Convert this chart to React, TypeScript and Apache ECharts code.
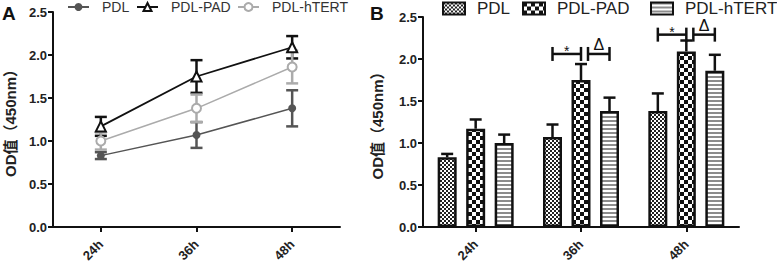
import React, { useEffect, useRef } from 'react';
import * as echarts from 'echarts';

// ---------- data ----------
const categories = ['24h', '36h', '48h'];
const seriesNames = ['PDL', 'PDL-PAD', 'PDL-hTERT'];
const meanPDL = [0.83, 1.07, 1.38];
const errPDL = [0.04, 0.15, 0.21];
const meanPAD = [1.17, 1.75, 2.09];
const errPAD = [0.11, 0.19, 0.13];
const meanHTERT = [1.0, 1.38, 1.86];
const errHTERT = [0.1, 0.16, 0.19];
const yMin = 0;
const yMax = 2.5;
const yStep = 0.5;
const yAxisName = 'OD值（450nm）';
// significance brackets: [category index, y value, from series, to series]
const sigBrackets = [
  [1, 2.06, 0, 1],
  [1, 2.06, 1, 2],
  [2, 2.29, 0, 1],
  [2, 2.29, 1, 2],
];
const sigLabels = ['*', 'Δ', '*', 'Δ'];

const means = [meanPDL, meanPAD, meanHTERT];
const errs = [errPDL, errPAD, errHTERT];

// ---------- style ----------
const FONT = '"Liberation Sans", Arial, "Noto Sans CJK SC", sans-serif';
const lineColors = ['#555555', '#111111', '#ababab'];
const BAR_W = 19;
const BAR_GAP = 0.5;
const BAR_SP = BAR_W * (1 + BAR_GAP);
const BRACKET_INSET: Record<string, [number, number]> = { '*': [0, 0], 'Δ': [7, 0] };

function makePattern(kind: string) {
  const size = 8;
  const c = document.createElement('canvas');
  c.width = size;
  c.height = size;
  const ctx = c.getContext('2d')!;
  ctx.fillStyle = '#ffffff';
  ctx.fillRect(0, 0, size, size);
  if (kind === 'fine') {
    ctx.fillStyle = '#222222';
    for (let y = 0; y < size; y += 2)
      for (let x = 0; x < size; x += 2) if (((x + y) / 2) % 2 === 0) ctx.fillRect(x, y, 2, 2);
  } else if (kind === 'coarse') {
    ctx.fillStyle = '#111111';
    ctx.fillRect(0, 0, 4, 4);
    ctx.fillRect(4, 4, 4, 4);
  } else {
    ctx.fillStyle = '#8c8c8c';
    for (let y = 0; y < size; y += 4) ctx.fillRect(0, y, size, 2);
  }
  return { image: c.toDataURL(), repeat: 'repeat', imageWidth: size, imageHeight: size };
}

const axisLineStyle = { color: '#111', width: 2 };

function yAxisCfg(nameGap: number) {
  return {
    type: 'value',
    min: yMin,
    max: yMax,
    interval: yStep,
    name: yAxisName,
    nameLocation: 'middle',
    nameGap,
    nameTextStyle: { fontWeight: 'bold', fontSize: 15, color: '#222', fontFamily: FONT },
    axisLine: { show: true, lineStyle: axisLineStyle },
    axisTick: { show: true, length: 5, lineStyle: axisLineStyle },
    splitLine: { show: false },
    axisLabel: {
      formatter: (v: number) => v.toFixed(1),
      fontWeight: 'bold',
      fontSize: 13,
      color: '#222',
      margin: 6,
      fontFamily: FONT,
    },
  };
}

function xAxisCfg() {
  return {
    type: 'category',
    data: categories,
    boundaryGap: true,
    axisLine: { show: true, lineStyle: axisLineStyle },
    axisTick: { show: true, alignWithLabel: true, length: 5, lineStyle: axisLineStyle },
    axisLabel: { rotate: 45, fontWeight: 'bold', fontSize: 13, color: '#222', margin: 15, fontFamily: FONT },
    splitLine: { show: false },
  };
}

function buildOptionA() {
  const legendX = [67, 136, 237];
  const symbols = ['circle', 'emptyTriangle', 'emptyCircle'];
  const symbolSizes = [8, 10, 9];
  const lines = seriesNames.map((n, i) => ({
    type: 'line',
    name: n,
    data: means[i],
    symbol: symbols[i],
    symbolSize: symbolSizes[i],
    itemStyle: { color: lineColors[i], borderWidth: 2 },
    lineStyle: { color: lineColors[i], width: i === 1 ? 1.8 : 1.5 },
    z: 3,
  }));
  const errSeries = seriesNames.map((n, i) => ({
    type: 'custom',
    name: n + ' err',
    z: 2,
    encode: { x: 0, y: 1 },
    data: means[i].map((m, k) => [k, m, errs[i][k]]),
    renderItem: (_p: any, api: any) => {
      const cat = api.value(0);
      const m = api.value(1);
      const e = api.value(2);
      const lo = api.coord([cat, m - e]);
      const hi = api.coord([cat, m + e]);
      const x = lo[0];
      const st = { stroke: lineColors[i], lineWidth: 2.5 };
      return {
        type: 'group',
        children: [
          { type: 'line', shape: { x1: x, y1: lo[1], x2: x, y2: hi[1] }, style: st },
          { type: 'line', shape: { x1: x - 6, y1: hi[1], x2: x + 6, y2: hi[1] }, style: st },
          { type: 'line', shape: { x1: x - 6, y1: lo[1], x2: x + 6, y2: lo[1] }, style: st },
        ],
      };
    },
  }));
  return {
    animation: false,
    textStyle: { fontFamily: FONT },
    graphic: [
      { type: 'text', left: 2, top: 4, style: { text: 'A', font: `bold 19px ${FONT}`, fill: '#111' } },
    ],
    legend: seriesNames.map((n, i) => ({
      data: [n],
      left: legendX[i],
      top: 0,
      padding: 0,
      itemWidth: 21,
      itemHeight: 10,
      selectedMode: false,
      textStyle: { fontSize: 14, color: '#333', fontFamily: FONT, padding: [0, 0, 0, 8] },
    })),
    grid: { left: 53, top: 12, width: 287, height: 215, outerBoundsMode: 'none' },
    xAxis: xAxisCfg(),
    yAxis: yAxisCfg(35),
    series: [...errSeries, ...lines],
  };
}

function buildOptionB() {
  const legendX = [82, 162, 290];
  const patterns = [makePattern('fine'), makePattern('coarse'), makePattern('stripe')];
  const bars = seriesNames.map((n, i) => ({
    type: 'bar',
    name: n,
    data: means[i],
    barWidth: BAR_W,
    barGap: `${BAR_GAP * 100}%`,
    itemStyle: { color: patterns[i], borderColor: '#111', borderWidth: 2.5 },
    z: 2,
  }));
  const errData: number[][] = [];
  seriesNames.forEach((_n, i) => means[i].forEach((m, k) => errData.push([k, m, errs[i][k], i])));
  const errSeries = {
    type: 'custom',
    name: 'err',
    z: 3,
    encode: { x: 0, y: 1 },
    data: errData,
    renderItem: (_p: any, api: any) => {
      const cat = api.value(0);
      const m = api.value(1);
      const e = api.value(2);
      const s = api.value(3);
      const base = api.coord([cat, m]);
      const top = api.coord([cat, m + e]);
      const x = base[0] + (s - 1) * BAR_SP;
      const st = { stroke: '#111', lineWidth: 2.5 };
      return {
        type: 'group',
        children: [
          { type: 'line', shape: { x1: x, y1: base[1], x2: x, y2: top[1] }, style: st },
          { type: 'line', shape: { x1: x - 6, y1: top[1], x2: x + 6, y2: top[1] }, style: st },
        ],
      };
    },
  };
  const bracketSeries = {
    type: 'custom',
    name: 'sig',
    z: 4,
    encode: { x: 0, y: 1 },
    data: sigBrackets,
    renderItem: (p: any, api: any) => {
      const cat = api.value(0);
      const y = api.value(1);
      const from = api.value(2);
      const to = api.value(3);
      const label = sigLabels[p.dataIndex];
      const inset = BRACKET_INSET[label];
      const c = api.coord([cat, y]);
      const x0 = c[0] + (from - 1) * BAR_SP + inset[0];
      const x1 = c[0] + (to - 1) * BAR_SP - inset[1];
      const st = { stroke: '#111', lineWidth: 2.5 };
      const isStar = label === '*';
      return {
        type: 'group',
        children: [
          { type: 'line', shape: { x1: x0, y1: c[1], x2: x1, y2: c[1] }, style: st },
          { type: 'line', shape: { x1: x0, y1: c[1] - 7, x2: x0, y2: c[1] + 7 }, style: st },
          { type: 'line', shape: { x1: x1, y1: c[1] - 7, x2: x1, y2: c[1] + 7 }, style: st },
          {
            type: 'text',
            x: (x0 + x1) / 2,
            y: isStar ? c[1] - 3 : c[1] - 9,
            style: {
              text: label,
              font: isStar ? `14px ${FONT}` : `16px ${FONT}`,
              fill: '#111',
              align: 'center',
              verticalAlign: 'middle',
            },
          },
        ],
      };
    },
  };
  return {
    animation: false,
    textStyle: { fontFamily: FONT },
    graphic: [
      { type: 'text', left: 10, top: 4, style: { text: 'B', font: `bold 19px ${FONT}`, fill: '#111' } },
    ],
    legend: seriesNames.map((n, i) => ({
      data: [n],
      left: legendX[i],
      top: 0,
      padding: 0,
      icon: 'rect',
      itemWidth: 22,
      itemHeight: 12,
      selectedMode: false,
      textStyle: { fontSize: 17, color: '#222', fontFamily: FONT, padding: [0, 0, 0, 7] },
    })),
    grid: { left: 63, top: 17, width: 316, height: 210, outerBoundsMode: 'none' },
    xAxis: xAxisCfg(),
    yAxis: yAxisCfg(38),
    series: [...bars, errSeries, bracketSeries],
  };
}

export default function App() {
  const refA = useRef<HTMLDivElement>(null);
  const refB = useRef<HTMLDivElement>(null);
  useEffect(() => {
    const a = echarts.init(refA.current!, undefined, { renderer: 'svg' });
    const b = echarts.init(refB.current!, undefined, { renderer: 'svg' });
    a.setOption(buildOptionA() as any);
    b.setOption(buildOptionB() as any);
    return () => {
      a.dispose();
      b.dispose();
    };
  }, []);
  return (
    <div style={{ position: 'fixed', left: 0, top: 0, width: 777, height: 267, background: '#fff' }}>
      <div ref={refA} style={{ position: 'absolute', left: 0, top: 0, width: 360, height: 267 }} />
      <div ref={refB} style={{ position: 'absolute', left: 360, top: 0, width: 417, height: 267 }} />
    </div>
  );
}
